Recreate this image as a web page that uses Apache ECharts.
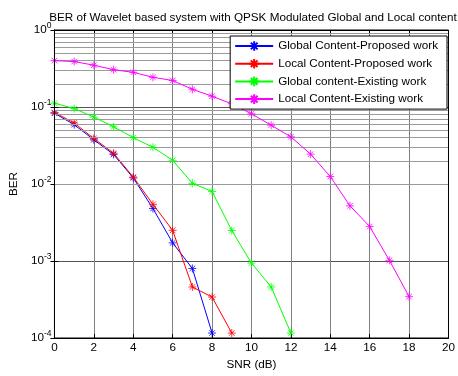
<!DOCTYPE html>
<html>
<head>
<meta charset="utf-8">
<script src="https://cdn.jsdelivr.net/npm/echarts@6/dist/echarts.min.js"></script>
<style>html,body{margin:0;padding:0;background:#fff;}#c{width:458px;height:376px;}</style>
</head>
<body>
<div id="c"></div>
<script>
var titleText = 'BER of Wavelet based system with QPSK Modulated Global and Local content';
var xLabelText = 'SNR (dB)';
var yLabelText = 'BER';
var seriesNames = ['Global Content-Proposed work', 'Local Content-Proposed work', 'Global content-Existing work', 'Local Content-Existing work'];
var seriesColors = ['#0000ff', '#ff0000', '#00ff00', '#ff00ff'];

var snrGlobalProposed = [0, 1, 2, 3, 4, 5, 6, 7, 8];
var berGlobalProposed = [0.083, 0.059, 0.0375, 0.0242, 0.012, 0.0048, 0.00172, 0.0008, 0.000116];

var snrLocalProposed = [0, 1, 2, 3, 4, 5, 6, 7, 8, 9];
var berLocalProposed = [0.085, 0.062, 0.039, 0.0251, 0.0123, 0.00544, 0.0025, 0.00046, 0.00034, 0.000116];

var snrGlobalExisting = [0, 1, 2, 3, 4, 5, 6, 7, 8, 9, 10, 11, 12];
var berGlobalExisting = [0.112, 0.0955, 0.074, 0.0553, 0.040, 0.030, 0.0203, 0.0102, 0.0080, 0.00249, 0.00094, 0.00046, 0.000116];

var snrLocalExisting = [0, 1, 2, 3, 4, 5, 6, 7, 8, 9, 10, 11, 12, 13, 14, 15, 16, 17, 18];
var berLocalExisting = [0.40, 0.389, 0.349, 0.305, 0.282, 0.243, 0.221, 0.170, 0.138, 0.11, 0.0816, 0.058, 0.041, 0.0244, 0.0125, 0.0052, 0.0028, 0.00102, 0.000344];

var xMin = 0, xMax = 20, xStep = 2;
var yMin = 1e-4, yMax = 1;
var minorMultipliers = [2, 3, 4, 5, 6, 7, 8, 9];
var decades = [1e-4, 1e-3, 1e-2, 1e-1];

function pairs(xs, ys) { return xs.map(function (x, i) { return [x, ys[i]]; }); }

var minorLines = [];
decades.forEach(function (d) {
  minorMultipliers.forEach(function (m) { minorLines.push({ yAxis: m * d }); });
});

var FONT = 'Liberation Sans, Arial, sans-serif';
var FS = 11.7;
var star = 'path://M0,-1L0,1M-1,0L1,0M-0.7,-0.7L0.7,0.7M-0.7,0.7L0.7,-0.7';
var allData = [
  pairs(snrGlobalProposed, berGlobalProposed),
  pairs(snrLocalProposed, berLocalProposed),
  pairs(snrGlobalExisting, berGlobalExisting),
  pairs(snrLocalExisting, berLocalExisting)
];

var series = [{
  type: 'line', name: '_grid', data: [], silent: true, z: 1,
  markLine: {
    silent: true, symbol: 'none', animation: false,
    label: { show: false },
    lineStyle: { color: '#9a9a9a', width: 1, type: 'solid' },
    emphasis: { disabled: true },
    data: minorLines
  }
}];
allData.forEach(function (d, i) {
  series.push({
    type: 'line', name: seriesNames[i], data: d, z: 3 + i,
    symbol: star, symbolSize: 8,
    lineStyle: { color: seriesColors[i], width: 1 },
    itemStyle: { color: seriesColors[i], borderColor: seriesColors[i], borderWidth: 0.8 },
    animation: false
  });
});

var chart = echarts.init(document.getElementById('c'));
chart.setOption({
  backgroundColor: '#fff',
  animation: false,
  textStyle: { fontFamily: FONT },
  title: {
    text: titleText, left: 248, textAlign: 'center', top: 7,
    textStyle: { fontSize: FS, fontWeight: 'normal', color: '#000', fontFamily: FONT }
  },
  legend: {
    data: seriesNames, orient: 'vertical', right: 11, top: 36,
    backgroundColor: '#fff', borderColor: '#000', borderWidth: 1, borderRadius: 0,
    padding: [4, 9, 4, 4], itemWidth: 38, itemHeight: 12, itemGap: 5.7, itemTextGap: 6,
    textStyle: { fontSize: FS, color: '#000', fontFamily: FONT },
    z: 20
  },
  grid: { left: 53, right: 8, top: 30, bottom: 31, show: true, borderColor: '#000', borderWidth: 1, z: 10 },
  xAxis: [{
    type: 'value', min: xMin, max: xMax, interval: xStep,
    name: xLabelText, nameLocation: 'middle', nameGap: 21,
    nameTextStyle: { fontSize: FS, color: '#000' },
    axisLine: { show: true, lineStyle: { color: '#000' } },
    axisTick: { show: true, inside: true, length: 4, lineStyle: { color: '#000' } },
    axisLabel: { fontSize: FS, color: '#000', margin: 4 },
    splitLine: { show: true, lineStyle: { color: '#808080', width: 1 } }
  }, {
    type: 'value', position: 'top', min: xMin, max: xMax, interval: xStep,
    axisLine: { show: true, lineStyle: { color: '#000' } },
    axisTick: { show: true, inside: true, length: 4, lineStyle: { color: '#000' } },
    axisLabel: { show: false }, splitLine: { show: false }
  }],
  yAxis: [{
    type: 'log', logBase: 10, min: yMin, max: yMax,
    name: yLabelText, nameLocation: 'middle', nameGap: 34, nameRotate: 90,
    nameTextStyle: { fontSize: FS, color: '#000' },
    axisLine: { show: true, lineStyle: { color: '#000' } },
    axisTick: { show: true, inside: true, length: 4, lineStyle: { color: '#000' } },
    axisLabel: {
      margin: 3, color: '#000',
      formatter: function (v) { return '{b|10}{s|' + Math.round(Math.log10(v)) + '}'; },
      rich: {
        b: { fontSize: FS, color: '#000', fontFamily: FONT },
        s: { fontSize: 8.5, color: '#000', padding: [0, 0, 9, 0], fontFamily: FONT }
      }
    },
    splitLine: { show: true, lineStyle: { color: '#555', width: 1 } }
  }, {
    type: 'log', logBase: 10, min: yMin, max: yMax, position: 'right',
    axisLine: { show: true, lineStyle: { color: '#000' } },
    axisTick: { show: true, inside: true, length: 4, lineStyle: { color: '#000' } },
    axisLabel: { show: false }, splitLine: { show: false }
  }],
  series: series
});
</script>
</body>
</html>
